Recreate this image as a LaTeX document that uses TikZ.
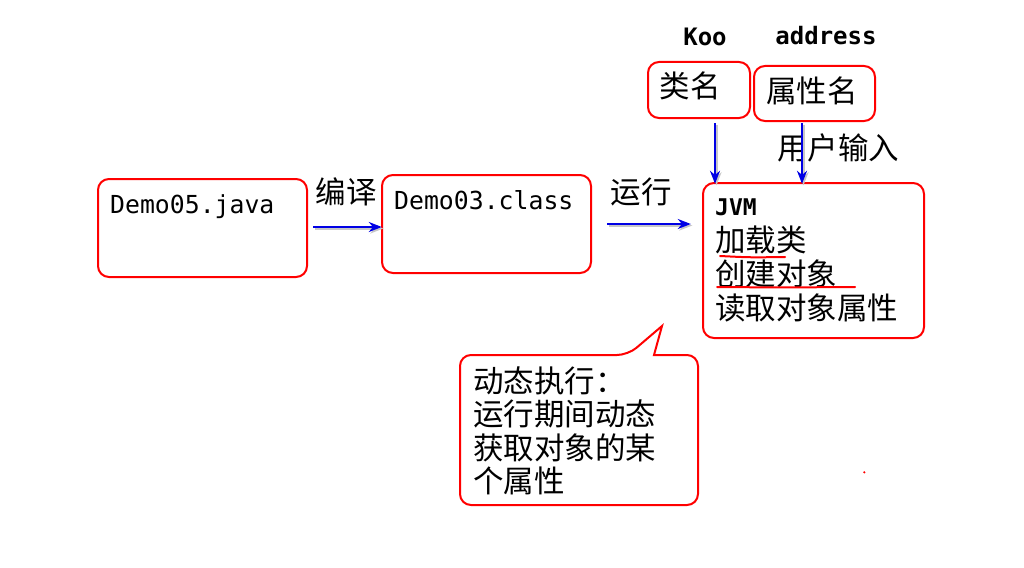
\documentclass[tikz,border=0pt]{standalone}
\usepackage{fontspec}
\setmonofont{DejaVu Sans Mono}
\newfontfamily\cjk{Noto Sans CJK SC}
\usetikzlibrary{arrows.meta}
\tikzset{
  x=1pt,y=-1pt,
  redbox/.style={draw=red,line width=2pt,rounded corners=11pt},
  blarrow/.style={draw=blue!90!black,line width=2.4pt,-{Stealth[length=13pt,width=10pt]},
    preaction={draw=black!22,line width=2.4pt,transform canvas={shift={(1.5pt,-1.5pt)}}}},
  mono/.style={inner sep=0pt,anchor=base west,font=\ttfamily\fontsize{24.8}{28}\selectfont},
  monob/.style={inner sep=0pt,anchor=base,font=\ttfamily\bfseries\fontsize{24}{28}\selectfont},
  zh/.style={inner sep=0pt,font=\cjk\fontsize{30.5}{34}\selectfont},
  zhl/.style={inner sep=0pt,anchor=base west,font=\cjk\fontsize{30.5}{34}\selectfont},
  uline/.style={draw=red,line width=2pt,line cap=round}
}
\begin{document}
\begin{tikzpicture}
\useasboundingbox[fill=white] (0,0) rectangle (1024,567);
% boxes
\draw[redbox] (98,179) rectangle (307,277);
\draw[redbox] (382,175) rectangle (591,273);
\draw[redbox] (703,183) rectangle (924,338);
\draw[redbox] (648,62) rectangle (750,118);
\draw[redbox] (754,66) rectangle (875,121);
% callout
\draw[draw=red,line width=2pt,rounded corners=11pt]
  (628,355) [sharp corners]-- (662,326) -- (654,355) [rounded corners=11pt]-- (698,355) -- (698,505) -- (460,505) -- (460,355) -- cycle;
% anchor coordinates for connectors
\node[inner sep=0pt,minimum size=0pt] (javaR) at (313,227) {};
\node[inner sep=0pt,minimum size=0pt] (classL) at (382,227) {};
\node[inner sep=0pt,minimum size=0pt] (classR) at (607,224) {};
\node[inner sep=0pt,minimum size=0pt] (jvmL) at (691,224) {};
\node[inner sep=0pt,minimum size=0pt] (leiB) at (715,123) {};
\node[inner sep=0pt,minimum size=0pt] (jvmT1) at (715,184) {};
\node[inner sep=0pt,minimum size=0pt] (shuxB) at (802,123) {};
\node[inner sep=0pt,minimum size=0pt] (jvmT2) at (802,184) {};
% texts
\node[mono] (t1) at (110,213) {Demo05.java};
\node[mono] (t2) at (394,209) {Demo03.class};
\node[zh] (l1) at (346,192) {编译};
\node[zh] (l2) at (641,192) {运行};
\node[zh] (l3) at (838,148) {用户输入};
\node[zh] (lei) at (690,86) {类名};
\node[zh] (shux) at (812,91) {属性名};
\node[monob] (koo) at (705,46) {Koo};
\node[monob] (addr) at (826,45) {address};
\node[inner sep=0pt,anchor=base west,font=\ttfamily\bfseries\fontsize{23}{26}\selectfont] (jvm) at (715,215) {JVM};
\node[zhl] (j1) at (715,251) {加载类};
\node[zhl] (j2) at (715,285) {创建对象};
\node[zhl] (j3) at (715,319) {读取对象属性};
\node[zhl] (c1) at (473,392) {动态执行：};
\node[zhl] (c2) at (473,425) {运行期间动态};
\node[zhl] (c3) at (473,459) {获取对象的某};
\node[zhl] (c4) at (473,492) {个属性};
% arrows
\draw[blarrow] (javaR) -- (classL);
\draw[blarrow] (classR) -- (jvmL);
\draw[blarrow] (leiB) -- (jvmT1);
\draw[blarrow] (shuxB) -- (jvmT2);
% underlines
\draw[uline] (720,256) .. controls (750,257.5) .. (785,257);
\draw[uline] (717,287) .. controls (780,287.5) .. (855,287);
% stray dot
\fill[red] (864.3,472.3) circle (1.2);
\end{tikzpicture}
\end{document}
